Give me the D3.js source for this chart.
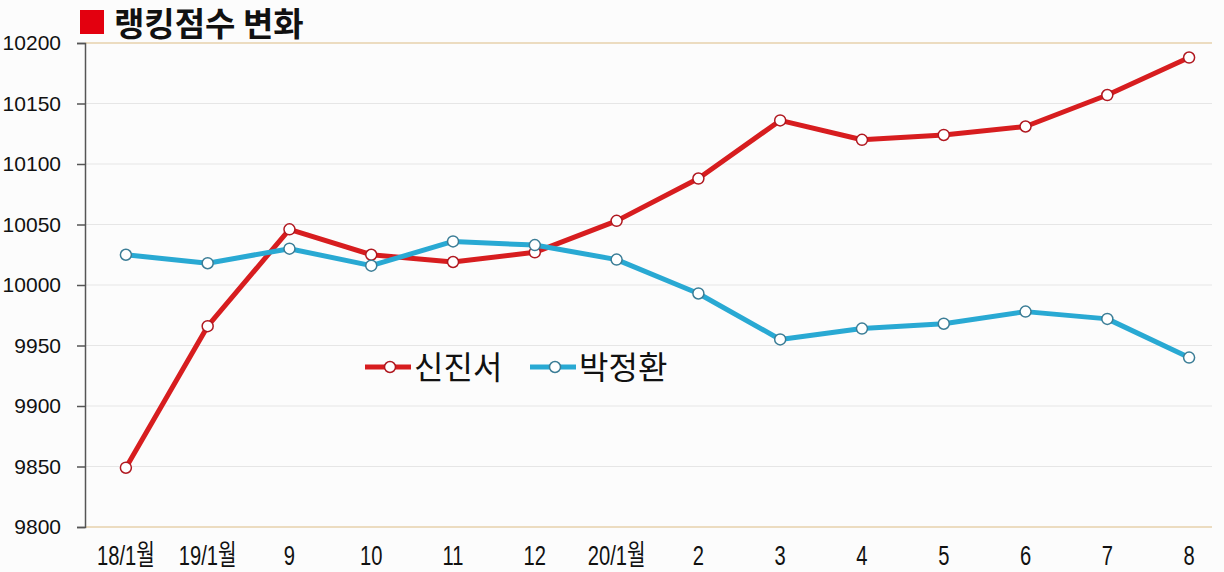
<!DOCTYPE html>
<html>
<head>
<meta charset="utf-8">
<script src="https://cdn.jsdelivr.net/npm/d3@7"></script>
<style>
    body { margin: 0; background: #fcfcfc; }
    svg { display: block; }
</style>
</head>
<body>
<div id="chart"></div>
<script>
// chart data
let months = ["18/1월", "19/1월", "9", "10", "11", "12", "20/1월", "2", "3", "4", "5", "6", "7", "8"];
let shinJinseo = [9849, 9966, 10046, 10025, 10019, 10027, 10053, 10088, 10136, 10120, 10124, 10131, 10157, 10188];
let parkJunghwan = [10025, 10018, 10030, 10016, 10036, 10033, 10021, 9993, 9955, 9964, 9968, 9978, 9972, 9940];
let yTicks = [9800, 9850, 9900, 9950, 10000, 10050, 10100, 10150, 10200];

let series = [
    {name: "신진서", values: shinJinseo, color: "#d71d1f", edge: "#b01820"},
    {name: "박정환", values: parkJunghwan, color: "#29a9d3", edge: "#3b7d96"}
];

let width = 1224, height = 572;
let margin = {left: 85, right: 1212, top: 43, bottom: 527};

let svg = d3.select("#chart")
    .append("svg")
    .attr("width", width)
    .attr("height", height);

let x = d3.scaleBand()
    .domain(months)
    .range([margin.left, 1230]);

let y = d3.scaleLinear()
    .domain([9800, 10200])
    .range([margin.bottom, margin.top]);

// grid lines
svg.append("g")
    .selectAll("line")
    .data(yTicks)
    .enter()
    .append("line")
    .attr("x1", margin.left)
    .attr("x2", margin.right)
    .attr("y1", function (d) { return y(d); })
    .attr("y2", function (d) { return y(d); })
    .attr("stroke", function (d) { return (d === 9800 || d === 10200) ? "#ecdcc0" : "#e6e6e6"; })
    .attr("stroke-width", function (d) { return (d === 9800 || d === 10200) ? 2 : 1; });

// y axis
let yAxis = svg.append("g")
    .attr("transform", "translate(" + margin.left + ",0)")
    .call(d3.axisLeft(y).tickValues(yTicks).tickSize(8).tickPadding(16).tickFormat(d3.format("d")));
yAxis.select(".domain").attr("stroke", "#555").attr("stroke-width", 1.5);
yAxis.selectAll(".tick line").attr("stroke", "#555").attr("stroke-width", 1.5);
yAxis.selectAll("text")
    .attr("fill", "#111")
    .style("font-family", "'Liberation Sans', Arial, sans-serif")
    .style("font-size", "21px");

// x axis labels, narrow look
let xAxis = svg.append("g")
    .attr("transform", "translate(0," + margin.bottom + ")")
    .call(d3.axisBottom(x).tickSize(0).tickPadding(14));
xAxis.select(".domain").remove();
xAxis.selectAll("text")
    .attr("fill", "#111")
    .attr("dy", "0.85em")
    .attr("transform", "scale(0.72,1)")
    .style("font-family", "'Liberation Sans', 'Noto Sans CJK KR', sans-serif")
    .style("font-size", "28px");

// lines
let line = d3.line()
    .x(function (d, i) { return x(months[i]) + x.bandwidth() / 2; })
    .y(function (d) { return y(d); });

series.forEach(function (s) {
    svg.append("path")
        .datum(s.values)
        .attr("fill", "none")
        .attr("stroke", s.color)
        .attr("stroke-width", 5)
        .attr("stroke-linejoin", "round")
        .attr("d", line);
});

series.forEach(function (s) {
    svg.append("g")
        .selectAll("circle")
        .data(s.values)
        .enter()
        .append("circle")
        .attr("cx", function (d, i) { return x(months[i]) + x.bandwidth() / 2; })
        .attr("cy", function (d) { return y(d); })
        .attr("r", 5.5)
        .attr("fill", "#fff")
        .attr("stroke", s.edge)
        .attr("stroke-width", 1.5);
});

// title
svg.append("rect")
    .attr("x", 80)
    .attr("y", 10)
    .attr("width", 24)
    .attr("height", 24)
    .attr("fill", "#e3000f");
svg.append("text")
    .attr("x", 114)
    .attr("y", 36)
    .attr("fill", "#111")
    .style("font-family", "'Noto Sans CJK KR', sans-serif")
    .style("font-size", "33px")
    .style("font-weight", "bold")
    .text("랭킹점수 변화");

// legend
let legend = svg.selectAll(".legend")
    .data(series)
    .enter()
    .append("g")
    .attr("class", "legend")
    .attr("transform", function (d, i) {
        return "translate(" + (365 + i * 165) + ",367)";
    });

legend.append("line")
    .attr("x1", 0)
    .attr("x2", 46)
    .attr("stroke", function (d) { return d.color; })
    .attr("stroke-width", 5);

legend.append("circle")
    .attr("cx", 25)
    .attr("r", 5.5)
    .attr("fill", "#fff")
    .attr("stroke", function (d) { return d.edge; })
    .attr("stroke-width", 1.5);

legend.append("text")
    .attr("x", 49)
    .attr("y", 0)
    .attr("dy", "0.36em")
    .attr("fill", "#111")
    .style("font-family", "'Noto Sans CJK KR', sans-serif")
    .style("font-size", "32px")
    .text(function (d) { return d.name; });
</script>
</body>
</html>
